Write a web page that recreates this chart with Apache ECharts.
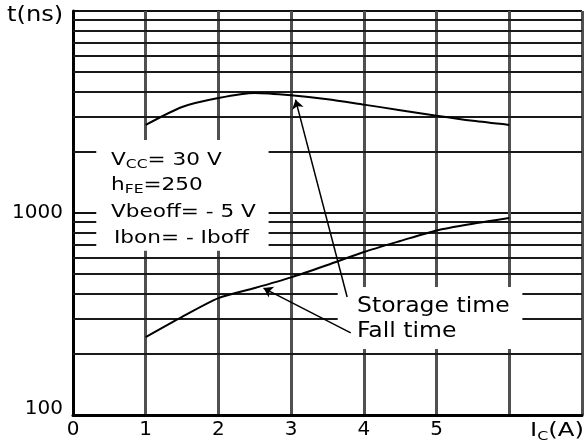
<!DOCTYPE html>
<html>
<head>
<meta charset="utf-8">
<script src="https://cdn.jsdelivr.net/npm/echarts@6/dist/echarts.min.js"></script>
<style>
  html, body { margin: 0; padding: 0; background: #fff; }
  #chart { width: 585px; height: 445px; }
</style>
</head>
<body>
<div id="chart"></div>
<script>
// collector current Ic (A)
const currentA = [1, 1.5, 2, 2.5, 3, 3.5, 4, 4.5, 5, 5.5, 6]
// switching times (ns)
const storageNs = [2730, 3350, 3710, 3930, 3830, 3660, 3440, 3230, 3030, 2860, 2730]
const fallNs = [243, 306, 379, 425, 480, 553, 641, 727, 820, 885, 944]
// log grid lines between decades
const minorLines = [200, 300, 400, 500, 600, 700, 800, 900, 2000, 3000, 4000, 5000, 6000, 7000, 8000, 9000]
// arrows from the labels to the curves [Ic, ns]
const storageArrow = [[3.77, 384], [3.06, 3640]]
const fallArrow = [[3.82, 255], [2.62, 425]]
// white boxes behind the texts [Ic, ns]
const condBox = [[0.32, 2300], [2.69, 650]]
const labelBox = [[3.64, 430], [6.18, 212]]

const font = 'DejaVu Sans'
const chart = echarts.init(document.getElementById('chart'))

const pairs = (xs, ys) => xs.map((x, i) => [x, ys[i]])

// the scanned lettering is wider than the font, so stretch it a little
const label = (text, x, y, size, stretch, extra) => ({
    type: 'text', x: x, y: y, z: 10, scaleX: stretch,
    style: Object.assign({ text: text, font: size + 'px ' + font, fill: '#000', verticalAlign: 'middle' }, extra || {})
})
const subRich = (size) => ({
    n: { fontFamily: font, fontSize: size, lineHeight: size + 4 },
    s: { fontFamily: font, fontSize: 13, lineHeight: 10, verticalAlign: 'bottom' }
})

const option = {
    animation: false,
    backgroundColor: '#fff',
    grid: { left: 73, right: 0, top: 11, bottom: 30 },
    xAxis: {
        type: 'value',
        min: 0,
        max: 7,
        interval: 1,
        axisLine: { show: true, onZero: false, lineStyle: { color: '#000', width: 3 } },
        axisTick: { show: false },
        axisLabel: {
            margin: 5,
            color: '#000',
            fontFamily: font,
            fontSize: 20,
            formatter: v => (v >= 6 ? '' : String(v))
        },
        splitLine: { show: true, lineStyle: { color: '#505050', width: 3 } }
    },
    yAxis: {
        type: 'log',
        logBase: 10,
        min: 100,
        max: 10000,
        axisLine: { show: true, lineStyle: { color: '#000', width: 3 } },
        axisTick: { show: false },
        axisLabel: {
            margin: 10,
            color: '#000',
            fontFamily: font,
            fontSize: 20,
            formatter: v => (v >= 10000 ? '' : v === 100 ? '{b|100}' : String(v)),
            rich: { b: { fontFamily: font, fontSize: 20, color: '#000', padding: [0, 0, 12, 0] } }
        },
        splitLine: { show: true, lineStyle: { color: '#111', width: 2 } }
    },
    series: [
        {
            type: 'line',
            data: [],
            z: 1,
            markLine: {
                silent: true,
                z: 1,
                symbol: 'none',
                label: { show: false },
                lineStyle: { color: '#1a1a1a', width: 2, type: 'solid' },
                data: minorLines.map(v => ({ yAxis: v }))
            }
        },
        {
            type: 'line',
            data: [],
            z: 2,
            markArea: {
                silent: true,
                z: 2,
                itemStyle: { color: '#fff', opacity: 1 },
                data: [
                    [{ coord: condBox[0] }, { coord: condBox[1] }],
                    [{ coord: labelBox[0] }, { coord: labelBox[1] }]
                ]
            }
        },
        {
            name: 'Storage time',
            type: 'line',
            z: 3,
            smooth: 0.25,
            symbol: 'none',
            lineStyle: { color: '#000', width: 2 },
            data: pairs(currentA, storageNs),
            markLine: {
                silent: true,
                z: 4,
                symbol: ['none', 'arrow'],
                symbolSize: 9,
                label: { show: false },
                lineStyle: { color: '#000', width: 1.5, type: 'solid' },
                data: [
                    [{ coord: storageArrow[0] }, { coord: storageArrow[1] }],
                    [{ coord: fallArrow[0] }, { coord: fallArrow[1] }]
                ]
            }
        },
        {
            name: 'Fall time',
            type: 'line',
            z: 3,
            smooth: 0.25,
            symbol: 'none',
            lineStyle: { color: '#000', width: 2 },
            data: pairs(currentA, fallNs)
        }
    ],
    graphic: [
        label('t(ns)', 7, 16, 21, 1.15),
        label('{n|I}{s|C}{n|(A)}', 584, 431, 20, 1.22, { align: 'right', rich: subRich(20) }),
        label('{n|V}{s|CC}{n|= 30 V}', 111, 160, 18, 1.2, { rich: subRich(18) }),
        label('{n|h}{s|FE}{n|=250}', 111, 185, 18, 1.2, { rich: subRich(18) }),
        label('Vbeoff= - 5 V', 111, 212, 18, 1.2),
        label('Ibon= - Iboff', 114, 238, 18, 1.2),
        label('Storage time', 357, 307, 21, 1.12),
        label('Fall time', 357, 332, 21, 1.12)
    ]
}

chart.setOption(option)
</script>
</body>
</html>
